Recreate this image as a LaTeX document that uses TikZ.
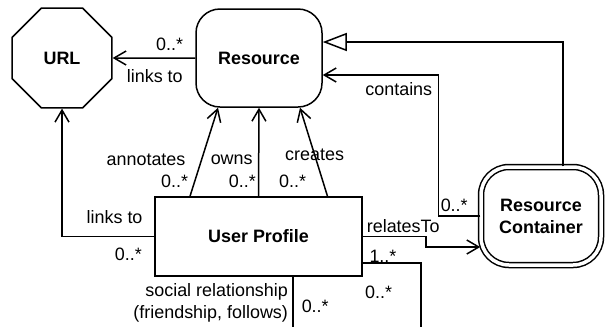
\documentclass[tikz,border=0pt]{standalone}
\usepackage{fontspec}
\setmainfont{Liberation Sans}
\usetikzlibrary{shapes.geometric, arrows.meta, positioning, calc}

\begin{document}
\begin{tikzpicture}[
    x=1bp, y=-1bp,
    every node/.style={font=\fontsize{18}{22}\selectfont},
    cls/.style={draw, line width=1.5bp, font=\fontsize{18}{22}\selectfont\bfseries, align=center},
    oct/.style={cls, regular polygon, regular polygon sides=8, minimum size=108bp, inner sep=0pt},
    rbox/.style={cls, rounded corners=24bp, minimum width=126bp, minimum height=98bp},
    dbox/.style={cls, double, double distance=3.5bp, rounded corners=28bp, minimum width=120bp, minimum height=98bp},
    ubox/.style={cls, minimum width=207bp, minimum height=79bp},
    assoc/.style={draw, line width=1.5bp, -{Straight Barb[length=12bp, width=14bp]}},
    gen/.style={draw, line width=1.5bp, -{Triangle[open, length=24bp, width=18bp, fill=white]}},
    link/.style={draw, line width=1.5bp},
    mult/.style={inner sep=2bp}
]
    \useasboundingbox (0,0) rectangle (605,326);
    \clip (0,0) rectangle (605,326);

    \node[oct] (url) at (62,58) {URL};
    \node[rbox] (res) at (259,58) {Resource};
    \node[ubox] (upro) at (258.5,236.5) {User Profile};
    \node[dbox] (cont) at (541,216) {Resource\\Container};
    \coordinate (low) at (293,345);

    \draw[assoc] (res) -- (url)
        node[mult, pos=0.31, above=5bp] {0..*}
        node[pos=0.49, below=7bp] {links to};
    \draw[assoc] ([xshift=-68.5bp]upro.north) -- ([xshift=-41bp]res.south)
        node[pos=0.41, left=12bp] {annotates}
        node[mult, pos=0.17, left=4bp] {0..*};
    \draw[assoc] (upro.north) -- (res.south)
        node[pos=0.41, left=2bp] {owns}
        node[mult, pos=0.17, left=0bp] {0..*};
    \draw[assoc] ([xshift=69bp]upro.north) -- ([xshift=41bp]res.south)
        node[pos=0.47] {creates}
        node[mult, pos=0.17, left=14bp] {0..*};
    \draw[assoc] (upro.west) -| (url.south)
        node[pos=0.215, above=9bp] {links to}
        node[mult, pos=0.14, below=9bp] {0..*};
    \draw[gen] ([xshift=22bp]cont.north) |- ([yshift=16bp]res.east);
    \draw[assoc] (cont.west) -- ++(-42,0)
        node[mult, pos=0.62, above=2bp] {0..*}
        |- ([yshift=-17bp]res.east)
        node[pos=0.5, below left=3bp and 2bp] {contains};
    \draw[assoc] (upro.east) -- ++(63,0)
        node[pos=0, above right] {relatesTo}
        |- ([yshift=-31bp]cont.west);
    \draw[link] ([yshift=-26.5bp]upro.east) -- ++(58,0)
        node[mult, pos=0, above right=-2bp and 4bp] {1..*}
        |- (low)
        node[mult, pos=0.18, left=26bp] {0..*}
        -| ([xshift=34.5bp]upro.south)
        node[mult, pos=0.78, right=6bp] {0..*}
        node[pos=0.81, left=1bp, align=right] {social relationship\\(friendship, follows)};
\end{tikzpicture}
\end{document}
